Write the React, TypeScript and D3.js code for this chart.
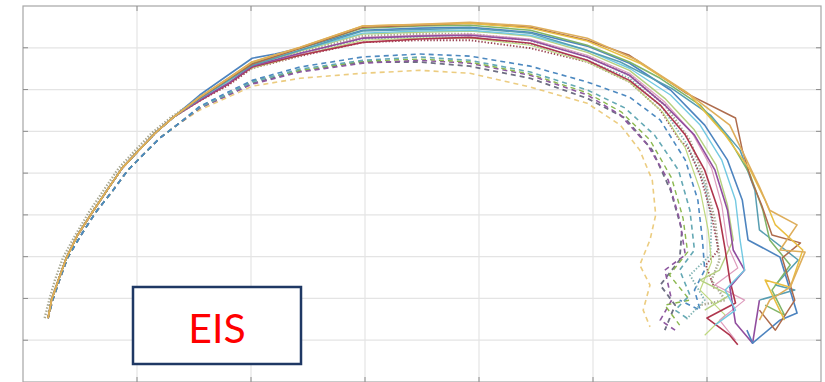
import React from 'react';
import * as d3 from 'd3';

// Nyquist plot of repeated EIS measurements, Z' on x, -Z'' on y (grid units)
const xTicks = [0, 1, 2, 3, 4, 5, 6, 7];
const yTicks = [0, 1, 2, 3, 4, 5, 6, 7, 8, 9];

// shared low-frequency start of the arcs
const solidStart = [[0.22, 1.53], [0.25, 1.96], [0.31, 2.44], [0.38, 2.97], [0.48, 3.52], [0.61, 4.07], [0.75, 4.64], [0.87, 5.12], [1.00, 5.50], [1.16, 5.96], [1.32, 6.34]];
const dottedStart = [[0.19, 1.53], [0.23, 1.96], [0.28, 2.44], [0.35, 2.97], [0.46, 3.52], [0.58, 4.07], [0.72, 4.64], [0.84, 5.12], [0.97, 5.50], [1.13, 5.96], [1.30, 6.34]];
const dashedStart = [[0.22, 1.53], [0.26, 1.96], [0.32, 2.44], [0.39, 2.97], [0.51, 3.52], [0.64, 4.07], [0.79, 4.59], [0.92, 5.07], [1.05, 5.43], [1.20, 5.84], [1.36, 6.17]];

const orangeSolid = [[1.55, 6.82], [1.80, 7.27], [2.01, 7.66], [2.43, 8.01], [2.98, 8.52], [3.48, 8.56], [3.92, 8.61], [4.45, 8.52], [4.95, 8.23], [5.39, 7.70], [5.82, 6.94], [6.20, 6.15], [6.46, 4.67], [6.55, 4.11], [6.79, 3.76], [6.64, 3.16], [6.86, 3.11], [6.73, 2.27], [6.55, 1.96], [6.46, 1.48]];
const brownSolid = [[1.55, 6.80], [1.80, 7.25], [2.01, 7.61], [2.43, 7.99], [2.98, 8.49], [3.48, 8.54], [3.92, 8.59], [4.45, 8.49], [4.95, 8.18], [5.32, 7.82], [5.82, 6.91], [6.25, 6.32], [6.31, 5.55], [6.39, 4.83], [6.48, 4.23], [6.57, 3.52], [6.82, 3.33], [6.66, 2.97], [6.77, 1.96], [6.60, 1.24], [6.46, 1.72]];
const greenSolid = [[1.55, 6.82], [1.80, 7.25], [2.01, 7.63], [2.43, 7.99], [2.98, 8.47], [3.48, 8.52], [3.92, 8.54], [4.45, 8.42], [4.95, 8.06], [5.32, 7.66], [5.59, 7.27], [5.94, 6.63], [6.20, 5.79], [6.38, 4.95], [6.49, 4.11], [6.55, 3.40], [6.73, 2.80], [6.57, 2.20], [6.68, 1.60], [6.51, 1.84]];
const tealSolid = [[1.55, 6.78], [1.80, 7.22], [2.01, 7.58], [2.43, 7.94], [2.98, 8.40], [3.48, 8.44], [3.92, 8.47], [4.45, 8.35], [4.89, 7.99], [5.24, 7.66], [5.69, 7.03], [6.03, 6.39], [6.29, 5.55], [6.42, 4.59], [6.46, 3.64], [6.80, 2.92], [6.60, 2.32], [6.77, 2.20], [6.46, 1.96]];
const blueSolid = [[1.55, 6.87], [2.01, 7.75], [2.21, 7.85], [2.43, 7.99], [2.98, 8.42], [3.48, 8.47], [3.92, 8.49], [4.45, 8.37], [4.95, 8.04], [5.32, 7.63], [5.68, 6.99], [5.98, 6.15], [6.18, 5.31], [6.31, 4.35], [6.36, 3.40], [6.64, 2.99], [6.79, 1.65], [6.64, 1.48], [6.40, 0.93], [6.35, 1.24]];
const cyanSolid = [[1.55, 6.78], [1.80, 7.20], [2.01, 7.61], [2.43, 7.94], [2.98, 8.35], [3.48, 8.40], [3.92, 8.42], [4.45, 8.30], [4.95, 7.94], [5.32, 7.51], [5.68, 6.87], [5.94, 6.15], [6.13, 5.31], [6.25, 4.35], [6.29, 3.40], [6.33, 2.68], [6.16, 2.20], [6.25, 1.72], [6.07, 1.36]];
const purpleSolid = [[1.55, 6.75], [1.80, 7.15], [2.01, 7.56], [2.43, 7.87], [2.98, 8.23], [3.48, 8.28], [3.92, 8.30], [4.45, 8.18], [4.95, 7.78], [5.32, 7.34], [5.63, 6.63], [5.89, 5.91], [6.07, 5.07], [6.18, 4.11], [6.23, 3.16], [6.33, 2.68], [6.20, 2.27], [6.25, 1.41], [6.40, 0.93], [6.46, 1.96]];
const maroonSolid = [[1.55, 6.73], [1.80, 7.13], [2.01, 7.54], [2.43, 7.82], [2.98, 8.13], [3.48, 8.21], [3.92, 8.25], [4.45, 8.11], [4.95, 7.70], [5.32, 7.22], [5.59, 6.63], [5.81, 5.91], [5.98, 5.07], [6.10, 4.11], [6.16, 3.16], [6.20, 2.44], [6.25, 1.89], [6.00, 1.53], [6.20, 1.12], [6.27, 0.89]];
const yellowSolid = [[1.55, 6.82], [1.80, 7.27], [2.01, 7.66], [2.43, 8.01], [2.98, 8.52], [3.48, 8.56], [3.92, 8.59], [4.45, 8.47], [4.95, 8.16], [5.41, 7.63], [5.85, 6.87], [6.16, 5.91], [6.38, 5.07], [6.51, 4.35], [6.60, 3.76], [6.84, 3.16], [6.73, 2.27], [6.51, 2.44], [6.68, 1.48]];
const oliveSolid = [[1.55, 6.78], [1.80, 7.20], [2.01, 7.58], [2.43, 7.92], [2.98, 8.33], [3.48, 8.37], [3.92, 8.40], [4.45, 8.28], [4.95, 7.89], [5.32, 7.46], [5.63, 6.79], [5.89, 6.03], [6.08, 5.19], [6.18, 4.23], [6.23, 3.40], [6.11, 2.68], [5.94, 2.44], [6.20, 2.08], [5.98, 1.72]];
const pinkSolid = [[1.55, 6.77], [1.80, 7.22], [2.01, 7.54], [2.43, 7.85], [2.98, 8.25], [3.48, 8.30], [3.92, 8.33], [4.45, 8.21], [4.95, 7.82], [5.32, 7.39], [5.63, 6.70], [5.87, 5.96], [6.04, 5.12], [6.13, 4.23], [6.18, 3.28], [6.27, 2.73], [6.07, 2.32], [6.33, 1.96], [6.11, 1.48], [6.25, 1.00]];
const limeSolid = [[1.55, 6.75], [1.80, 7.20], [2.01, 7.51], [2.43, 7.82], [2.98, 8.18], [3.48, 8.23], [3.92, 8.23], [4.45, 8.06], [4.95, 7.66], [5.32, 7.18], [5.61, 6.46], [5.81, 5.60], [5.94, 4.59], [6.01, 3.64], [6.04, 2.87], [5.94, 2.20], [6.16, 1.60], [5.98, 1.12]];

const grayDotted = [[1.55, 6.80], [1.80, 7.20], [2.01, 7.56], [2.43, 7.89], [2.98, 8.28], [3.48, 8.33], [3.92, 8.33], [4.45, 8.18], [4.95, 7.80], [5.32, 7.34], [5.63, 6.63], [5.85, 5.79], [5.98, 4.83], [6.07, 3.88], [6.11, 2.92], [6.04, 2.44], [6.16, 1.96], [5.94, 1.84]];
const maroonDotted = [[1.55, 6.73], [1.80, 7.10], [2.01, 7.51], [2.43, 7.80], [2.98, 8.13], [3.48, 8.18], [3.92, 8.18], [4.45, 7.99], [4.95, 7.66], [5.32, 7.18], [5.59, 6.51], [5.76, 5.79], [5.83, 5.62], [5.94, 4.95], [6.04, 4.00], [6.10, 3.16], [5.99, 2.80], [6.07, 2.20]];
const tealDotted = [[1.55, 6.75], [1.80, 7.13], [2.01, 7.54], [2.43, 7.85], [2.98, 8.21], [3.48, 8.25], [3.92, 8.25], [4.45, 8.09], [4.95, 7.70], [5.32, 7.27], [5.61, 6.56], [5.83, 5.67], [5.98, 4.71], [6.04, 3.88], [6.03, 3.04], [5.85, 2.56], [5.98, 1.96], [5.81, 1.48]];

const blueDashed = [[1.55, 6.60], [1.80, 6.94], [2.01, 7.22], [2.43, 7.54], [2.98, 7.78], [3.48, 7.85], [3.92, 7.80], [4.45, 7.56], [4.95, 7.18], [5.32, 6.82], [5.59, 6.27], [5.81, 5.31], [5.92, 4.35], [5.96, 3.40], [5.98, 2.68], [5.89, 2.20], [5.94, 1.72], [5.76, 1.96]];
const tealDashed = [[1.55, 6.58], [1.80, 6.90], [2.01, 7.18], [2.43, 7.49], [2.98, 7.70], [3.48, 7.78], [3.92, 7.70], [4.45, 7.42], [4.95, 6.99], [5.28, 6.56], [5.54, 5.91], [5.75, 5.07], [5.85, 4.11], [5.89, 3.16], [5.76, 2.68], [5.85, 2.08], [5.72, 1.72], [5.85, 1.48]];
const purpleDashed = [[1.55, 6.56], [1.80, 6.87], [2.01, 7.13], [2.43, 7.42], [2.98, 7.63], [3.48, 7.70], [3.92, 7.63], [4.45, 7.34], [4.95, 6.87], [5.24, 6.39], [5.48, 5.67], [5.66, 4.83], [5.76, 3.88], [5.81, 3.04], [5.63, 2.68], [5.69, 1.96], [5.59, 1.48], [5.72, 1.24]];
const grayDashed = [[1.55, 6.56], [1.80, 6.87], [2.01, 7.15], [2.43, 7.44], [2.98, 7.66], [3.48, 7.66], [3.92, 7.56], [4.45, 7.27], [4.95, 6.79], [5.28, 6.32], [5.52, 5.55], [5.68, 4.59], [5.78, 3.64], [5.76, 2.92], [5.59, 2.32], [5.72, 1.84], [5.63, 1.24]];
const yellowDashed = [[1.55, 6.51], [1.80, 6.82], [2.01, 7.08], [2.43, 7.27], [2.98, 7.39], [3.48, 7.46], [3.92, 7.39], [4.45, 7.06], [4.95, 6.67], [5.24, 6.15], [5.41, 5.55], [5.52, 4.83], [5.55, 4.00], [5.50, 3.40], [5.41, 2.80], [5.50, 2.32], [5.44, 1.72], [5.50, 1.32]];
const greenDashed = [[1.55, 6.58], [1.80, 6.90], [2.01, 7.20], [2.43, 7.46], [2.98, 7.68], [3.48, 7.73], [3.92, 7.66], [4.45, 7.37], [4.95, 6.92], [5.25, 6.46], [5.50, 5.79], [5.69, 4.88], [5.79, 3.92], [5.83, 3.11], [5.67, 2.56], [5.85, 1.96], [5.63, 1.84], [5.76, 1.36]];

const SOLID = '';
const DOTTED = '1.4,1.8';
const DASHED = '5,4';

const series = [
  { pts: yellowDashed, start: dashedStart, color: '#e9c46a', dash: DASHED, w: 1.6 },
  { pts: grayDashed, start: dashedStart, color: '#55566e', dash: DASHED, w: 1.8 },
  { pts: purpleDashed, start: dashedStart, color: '#7a3b8f', dash: DASHED, w: 1.6 },
  { pts: greenDashed, start: dashedStart, color: '#77ac30', dash: DASHED, w: 1.4 },
  { pts: tealDashed, start: dashedStart, color: '#4a9aa8', dash: DASHED, w: 1.6 },
  { pts: blueDashed, start: dashedStart, color: '#2e75b6', dash: DASHED, w: 1.6 },
  { pts: grayDotted, start: dottedStart, color: '#9a9a80', dash: DOTTED, w: 2.4 },
  { pts: tealDotted, start: solidStart, color: '#6aa6a6', dash: DOTTED, w: 1.8 },
  { pts: maroonDotted, start: solidStart, color: '#8b2a3a', dash: DOTTED, w: 1.8 },
  { pts: limeSolid, start: solidStart, color: '#b5d36b', dash: SOLID, w: 1.2 },
  { pts: pinkSolid, start: solidStart, color: '#d98cb3', dash: SOLID, w: 1.2 },
  { pts: oliveSolid, start: solidStart, color: '#a8c86a', dash: SOLID, w: 1.4 },
  { pts: maroonSolid, start: solidStart, color: '#a2142f', dash: SOLID, w: 1.6 },
  { pts: purpleSolid, start: solidStart, color: '#7e2f8e', dash: SOLID, w: 1.6 },
  { pts: cyanSolid, start: solidStart, color: '#5bc0de', dash: SOLID, w: 1.4 },
  { pts: blueSolid, start: solidStart, color: '#2f6fb5', dash: SOLID, w: 1.6 },
  { pts: tealSolid, start: solidStart, color: '#3b8ea5', dash: SOLID, w: 1.5 },
  { pts: greenSolid, start: solidStart, color: '#6aa84f', dash: SOLID, w: 1.5 },
  { pts: brownSolid, start: solidStart, color: '#a0522d', dash: SOLID, w: 1.5 },
  { pts: yellowSolid, start: solidStart, color: '#e6b422', dash: SOLID, w: 1.5 },
  { pts: orangeSolid, start: solidStart, color: '#d9a03f', dash: SOLID, w: 1.6 },
];

const W = 825;
const H = 382;
const margin = { left: 23, right: 4, top: 6, bottom: 0 };

const x = d3.scaleLinear().domain([0, 7]).range([margin.left, W - margin.right]);
const y = d3.scaleLinear().domain([0, 9]).range([H - margin.bottom, margin.top]);

const line = d3.line<number[]>()
  .x(d => x(d[0]))
  .y(d => y(d[1]));

const App = () => {
  const x0 = x(0), x1 = x(7), y0 = y(0), y1 = y(9);
  return (
    <div style={{ position: 'absolute', left: 0, top: 0 }}>
      <svg width={W} height={H} style={{ display: 'block', background: '#fff' }}>
        {/* grid */}
        {xTicks.slice(1, -1).map(t => (
          <line key={'gx' + t} x1={x(t)} x2={x(t)} y1={y1} y2={y0} stroke="#e4e4e4" strokeWidth={1.2} />
        ))}
        {yTicks.slice(1, -1).map(t => (
          <line key={'gy' + t} x1={x0} x2={x1} y1={y(t)} y2={y(t)} stroke="#e4e4e4" strokeWidth={1.2} />
        ))}
        {/* axes box */}
        <rect x={x0} y={y1} width={x1 - x0} height={y0 - y1} fill="none" stroke="#a6a6a6" strokeWidth={1.2} />
        {xTicks.slice(1, -1).map(t => (
          <g key={'tx' + t} stroke="#8c8c8c" strokeWidth={1}>
            <line x1={x(t)} x2={x(t)} y1={y1} y2={y1 + 5} />
            <line x1={x(t)} x2={x(t)} y1={y0} y2={y0 - 5} />
          </g>
        ))}
        {yTicks.slice(1, -1).map(t => (
          <g key={'ty' + t} stroke="#8c8c8c" strokeWidth={1}>
            <line x1={x0} x2={x0 + 5} y1={y(t)} y2={y(t)} />
            <line x1={x1} x2={x1 - 5} y1={y(t)} y2={y(t)} />
          </g>
        ))}
        {/* arcs */}
        <g fill="none" strokeLinejoin="round" opacity={0.85}>
          {series.map((s, i) => (
            <path
              key={i}
              d={line([...s.start, ...s.pts]) || ''}
              stroke={s.color}
              strokeWidth={s.w}
              strokeDasharray={s.dash || undefined}
            />
          ))}
        </g>
        {/* label box */}
        <rect x={133} y={287} width={168} height={77} fill="#fff" stroke="#1f3864" strokeWidth={2.5} />
        <text x={217} y={343} textAnchor="middle" fontFamily="Lato, 'Open Sans', sans-serif" fontSize={41} fill="#ff0000">EIS</text>
      </svg>
    </div>
  );
};

export default App;
